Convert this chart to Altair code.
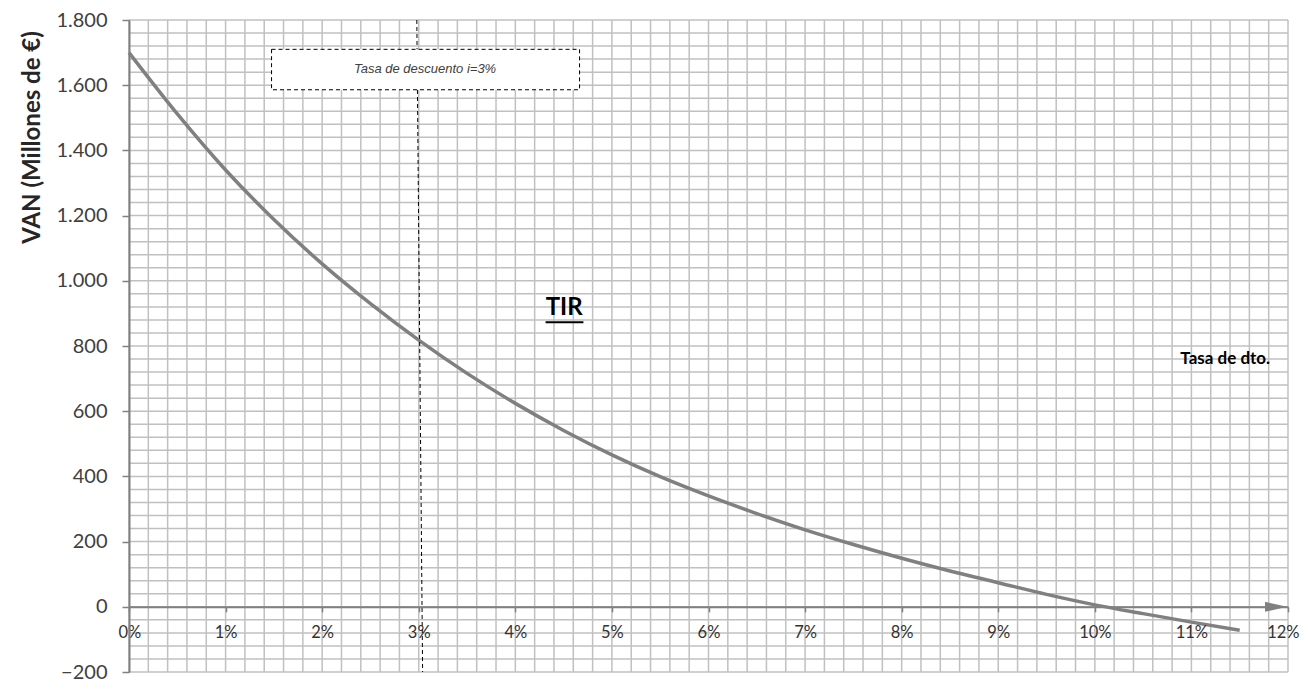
import altair as alt
import pandas as pd

# ---- data ----
tasa = [0, 0.5, 1, 1.5, 2, 2.5, 3, 3.5, 4, 4.5, 5, 5.5, 6, 6.5, 7, 7.5, 8, 8.5, 9, 9.5, 10, 10.5, 11, 11.5]
van = [1700, 1512, 1340, 1188, 1052, 930, 818, 716, 624, 541, 466, 399, 340, 286, 236, 191, 149, 110, 74, 38, 6, -21, -47, -72]

x_ticks = list(range(0, 13))
y_ticks = list(range(-200, 1801, 200))
grid_x = [round(i * 0.2, 1) for i in range(61)]
grid_y = list(range(-200, 1801, 40))

# annotations
ref_rate = [2.98, 3.04]          # dashed discount-rate line (top, bottom)
box_x = [1.476, 4.665]
box_y = [1586, 1710]
box_label = "Tasa de descuento i=3%"
box_label_pos = [3.065, 1650]
tir_label = "TIR"
tir_pos = [4.505, 917]
tir_underline = [4.313, 4.705, 873]
dto_label = "Tasa de dto."
dto_pos = [11.35, 761]
arrow_pos = [11.876, 0]

FONT = "Lato"
GRID = "#c0c0c0"
AXIS = "#808080"
W, H = 1159, 652
PAD = {"left": 121, "top": 12, "right": 12, "bottom": 10}
Y_MIN, Y_MAX = -200, 1800

xs = alt.Scale(domain=[0, 12], nice=False, zero=False)
ys = alt.Scale(domain=[Y_MIN, Y_MAX], nice=False, zero=False)

x_axis = alt.Axis(
    values=x_ticks, labelExpr="datum.value + '%'", title=None, grid=False,
    offset=-H * (0 - Y_MIN) / (Y_MAX - Y_MIN), domainColor=AXIS, domainWidth=2,
    tickColor=AXIS, tickWidth=1.5, tickSize=5, labelFont=FONT, labelFontSize=16.5,
    labelColor="#333333", labelPadding=13, labelFlush=True, labelFlushOffset=11, zindex=1)
y_axis = alt.Axis(
    values=y_ticks, labelExpr="replace(format(datum.value, ','), ',', '.')",
    title="VAN (Millones de €)", titleFont=FONT, titleFontSize=24, titleFontWeight="bold",
    titleColor="#262626", titleAngle=270, titleAlign="center", titleBaseline="middle",
    titleX=-97, titleY=117,
    grid=False, domainColor=AXIS, domainWidth=2,
    tickColor=AXIS, tickWidth=1.5, tickSize=7, labelFont=FONT, labelFontSize=20,
    labelColor="#404040", labelPadding=15, zindex=1)


def X(field):
    return alt.X(field, type="quantitative", scale=xs, axis=x_axis)


def Y(field):
    return alt.Y(field, type="quantitative", scale=ys, axis=y_axis)


gx = alt.Chart(pd.DataFrame({"gx": grid_x})).mark_rule(color=GRID, strokeWidth=1.5).encode(x=X("gx"))
gy = alt.Chart(pd.DataFrame({"gy": grid_y})).mark_rule(color=GRID, strokeWidth=1.5).encode(y=Y("gy"))

curve = alt.Chart(pd.DataFrame({"tasa": tasa, "van": van})).mark_line(
    color="#808080", strokeWidth=3.5, interpolate="monotone", strokeCap="butt"
).encode(x=X("tasa"), y=Y("van"))

dash = alt.Chart(pd.DataFrame({"x": [ref_rate[0]], "x2": [ref_rate[1]], "y": [Y_MAX], "y2": [Y_MIN]})).mark_rule(
    color="black", strokeWidth=1, strokeDash=[4, 3]).encode(
    x=X("x"), x2="x2:Q", y=Y("y"), y2="y2:Q")

box = alt.Chart(pd.DataFrame({"x": [box_x[0]], "x2": [box_x[1]], "y": [box_y[0]], "y2": [box_y[1]]})).mark_rect(
    fill="white", stroke="black", strokeWidth=1, strokeDash=[4, 3]).encode(
    x=X("x"), x2="x2:Q", y=Y("y"), y2="y2:Q")

box_text = alt.Chart(pd.DataFrame({"x": [box_label_pos[0]], "y": [box_label_pos[1]], "t": [box_label]})).mark_text(
    font="Liberation Sans", fontStyle="italic", fontSize=13, color="#404040", align="center", baseline="middle").encode(
    x=X("x"), y=Y("y"), text="t:N")

tir = alt.Chart(pd.DataFrame({"x": [tir_pos[0]], "y": [tir_pos[1]], "t": [tir_label]})).mark_text(
    font=FONT, fontWeight="bold", fontSize=24, color="black", align="center", baseline="middle").encode(
    x=X("x"), y=Y("y"), text="t:N")

underline = alt.Chart(pd.DataFrame({"x": [tir_underline[0]], "x2": [tir_underline[1]], "y": [tir_underline[2]]})).mark_rule(
    color="black", strokeWidth=2).encode(x=X("x"), x2="x2:Q", y=Y("y"))

dto = alt.Chart(pd.DataFrame({"x": [dto_pos[0]], "y": [dto_pos[1]], "t": [dto_label]})).mark_text(
    font=FONT, fontWeight="bold", fontSize=17, color="black", align="center", baseline="middle").encode(
    x=X("x"), y=Y("y"), text="t:N")

arrow = alt.Chart(pd.DataFrame({"x": [arrow_pos[0]], "y": [arrow_pos[1]]})).mark_point(
    shape="M-1,-0.45L1,0L-1,0.45Z", size=484, filled=True, color=AXIS, opacity=1).encode(
    x=X("x"), y=Y("y"))

chart = alt.layer(gx, gy, curve, dash, box, box_text, tir, underline, dto, arrow).properties(
    width=W, height=H,
    autosize=alt.AutoSizeParams(type="none"),
    padding=PAD,
    background="white",
).configure_view(strokeWidth=0)

chart.save("out.html", embed_options={"renderer": "svg", "actions": False})
